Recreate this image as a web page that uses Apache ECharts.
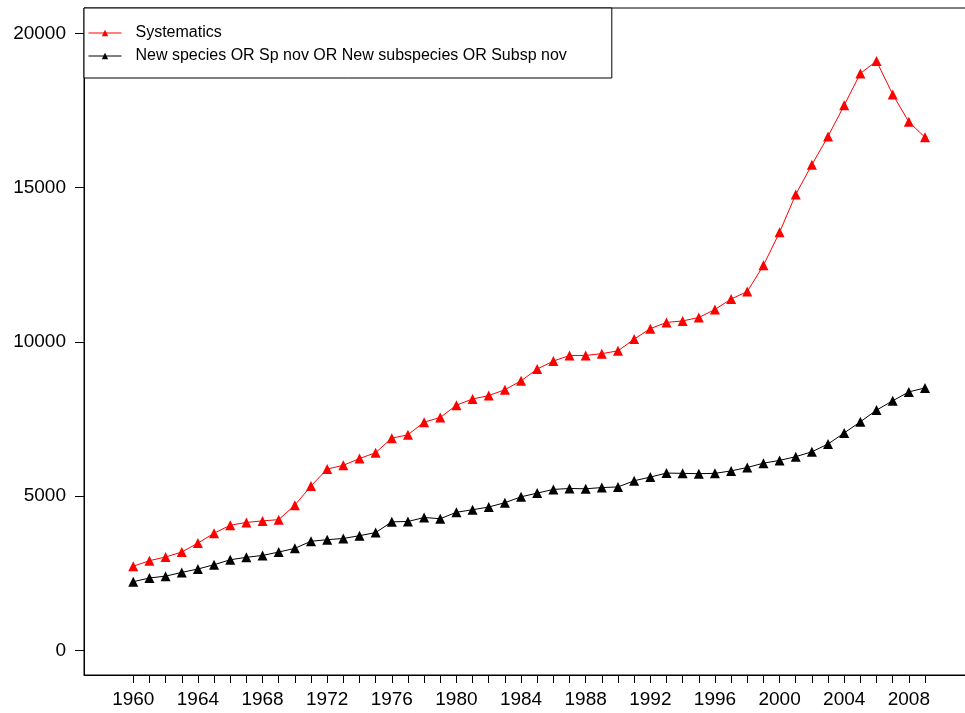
<!DOCTYPE html>
<html>
<head>
<meta charset="utf-8">
<script src="https://cdn.jsdelivr.net/npm/echarts@6/dist/echarts.min.js"></script>
<style>
  html, body { margin: 0; padding: 0; background: #fff; }
  #chart { width: 965px; height: 713px; }
</style>
</head>
<body>
<div id="chart"></div>
<script>
var years = [1960, 1961, 1962, 1963, 1964, 1965, 1966, 1967, 1968, 1969,
    1970, 1971, 1972, 1973, 1974, 1975, 1976, 1977, 1978, 1979,
    1980, 1981, 1982, 1983, 1984, 1985, 1986, 1987, 1988, 1989,
    1990, 1991, 1992, 1993, 1994, 1995, 1996, 1997, 1998, 1999,
    2000, 2001, 2002, 2003, 2004, 2005, 2006, 2007, 2008, 2009];
var systematics = [2730, 2910, 3030, 3190, 3480, 3800, 4060, 4150, 4200, 4240,
    4710, 5330, 5880, 6000, 6220, 6410, 6880, 6990, 7400, 7550,
    7950, 8150, 8260, 8450, 8740, 9120, 9380, 9560, 9560, 9620,
    9710, 10090, 10430, 10630, 10680, 10790, 11050, 11390, 11630, 12480,
    13550, 14780, 15740, 16660, 17670, 18700, 19100, 18020, 17130, 16630];
var newSpecies = [2230, 2350, 2410, 2530, 2640, 2780, 2940, 3020, 3080, 3190,
    3310, 3540, 3590, 3630, 3720, 3820, 4170, 4180, 4310, 4270,
    4480, 4560, 4650, 4790, 4980, 5100, 5220, 5250, 5240, 5280,
    5300, 5500, 5620, 5750, 5740, 5730, 5740, 5820, 5930, 6070,
    6160, 6280, 6440, 6690, 7050, 7410, 7790, 8090, 8380, 8510];
var xLabels = [1960, 1964, 1968, 1972, 1976, 1980, 1984, 1988, 1992, 1996, 2000, 2004, 2008];
var yLabels = [0, 5000, 10000, 15000, 20000];
var seriesNames = ["Systematics", "New species OR Sp nov OR New subspecies OR Subsp nov"];

function pairs(vals) {
    var out = [];
    for (var i = 0; i < years.length; i++) {
        out.push([years[i], vals[i]]);
    }
    return out;
}

var font = "'Liberation Sans', Arial, Helvetica, sans-serif";
var chart = echarts.init(document.getElementById("chart"));

function lineSeries(name, vals, color) {
    return {
        name: name,
        type: "line",
        data: pairs(vals),
        symbol: "triangle",
        symbolSize: 10,
        lineStyle: { color: color, width: 1 },
        itemStyle: { color: color },
        emphasis: { disabled: true }
    };
}

chart.setOption({
    animation: false,
    backgroundColor: "#fff",
    textStyle: { fontFamily: font },
    grid: {
        left: 84,
        top: 8,
        right: -2,
        bottom: 38,
        show: true,
        borderColor: "#000",
        borderWidth: 1,
        outerBoundsMode: "none"
    },
    legend: {
        left: 84,
        top: 8,
        orient: "vertical",
        data: seriesNames,
        backgroundColor: "#fff",
        borderColor: "#000",
        borderWidth: 1,
        padding: [17, 45, 14, 4],
        itemWidth: 33,
        itemHeight: 8,
        itemGap: 7,
        lineStyle: { width: 1 },
        textStyle: {
            fontFamily: font,
            fontSize: 16,
            lineHeight: 16,
            color: "#000",
            padding: [0, 0, 0, 9]
        }
    },
    xAxis: {
        type: "value",
        min: 1956.95,
        max: 2011.6,
        splitLine: { show: false },
        axisLine: { onZero: false, lineStyle: { color: "#000", width: 1 } },
        axisTick: {
            customValues: years,
            length: 8,
            lineStyle: { color: "#000" }
        },
        axisLabel: {
            customValues: xLabels,
            formatter: function (v) { return String(v); },
            fontFamily: font,
            fontSize: 19,
            color: "#000",
            margin: 15
        }
    },
    yAxis: {
        type: "value",
        min: -794,
        max: 20820,
        splitLine: { show: false },
        axisLine: { show: true, onZero: false, lineStyle: { color: "#000", width: 1 } },
        axisTick: {
            show: true,
            customValues: yLabels,
            length: 9,
            lineStyle: { color: "#000" }
        },
        axisLabel: {
            customValues: yLabels,
            formatter: function (v) { return String(v); },
            fontFamily: font,
            fontSize: 19,
            color: "#000",
            margin: 18
        }
    },
    series: [
        lineSeries(seriesNames[0], systematics, "#ff0000"),
        lineSeries(seriesNames[1], newSpecies, "#000000")
    ]
});
</script>
</body>
</html>
